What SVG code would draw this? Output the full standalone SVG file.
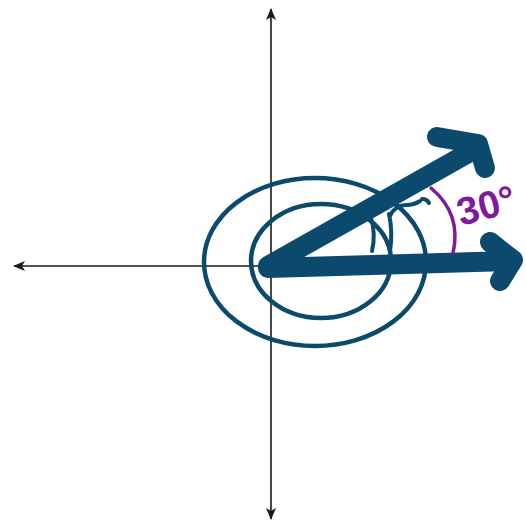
<svg xmlns="http://www.w3.org/2000/svg" width="526" height="525" viewBox="0 0 526 525">
<style>
.axis{stroke:#1a1a1a;stroke-width:1.6;fill:none}
.blue{stroke:#0b4a6c;fill:none;stroke-linecap:round;stroke-linejoin:round}
.thin{stroke-width:4.5}
.thick{stroke-width:20}
.purple{stroke:#7e1a9e;fill:none;stroke-linecap:round;stroke-width:3.5}
.lbl{font-family:"Liberation Sans",Arial,sans-serif;font-size:39px;font-weight:bold;fill:#7e1a9e}
</style>
<defs>
<marker id="ah" viewBox="0 0 12 10" refX="11" refY="5" markerWidth="12" markerHeight="10" markerUnits="userSpaceOnUse" orient="auto-start-reverse">
<path d="M0,0 L12,5 L0,10 L3,5 Z" fill="#1a1a1a"/>
</marker>
</defs>
<g id="axes">
<line id="y-axis" class="axis" x1="271" y1="9" x2="271" y2="519" marker-start="url(#ah)" marker-end="url(#ah)"/>
<line id="x-axis" class="axis" x1="14" y1="266" x2="275" y2="266" marker-start="url(#ah)"/>
</g>
<g id="circles">
<ellipse id="outer" class="blue thin" cx="315" cy="262" rx="111" ry="84"/>
<ellipse id="inner" class="blue thin" cx="321" cy="261" rx="70" ry="57"/>
<path id="marks" class="blue" stroke-width="4" d="M371,218 Q376,234 372,251 M389,214 Q393,232 390,251 M390,216 Q395,205 406,205 Q414,205 420,201 M422,199 Q427,199 429,203"/>
</g>
<g id="connectors">
<line id="vec-diag" class="blue thick" x1="268" y1="266" x2="470" y2="152"/>
<polyline id="head-diag" class="blue thick" points="437,137 478,144 485,168"/>
<line id="vec-horiz" class="blue thick" x1="268" y1="268" x2="512" y2="261"/>
<polyline id="head-horiz" class="blue thick" points="490,242 513,260 500,281"/>
</g>
<g id="angle">
<path id="angle-arc" class="purple" d="M431,188 Q462,214 453,253"/>
<text class="lbl" transform="translate(461,226) rotate(-15)">30°</text>
</g>
</svg>
